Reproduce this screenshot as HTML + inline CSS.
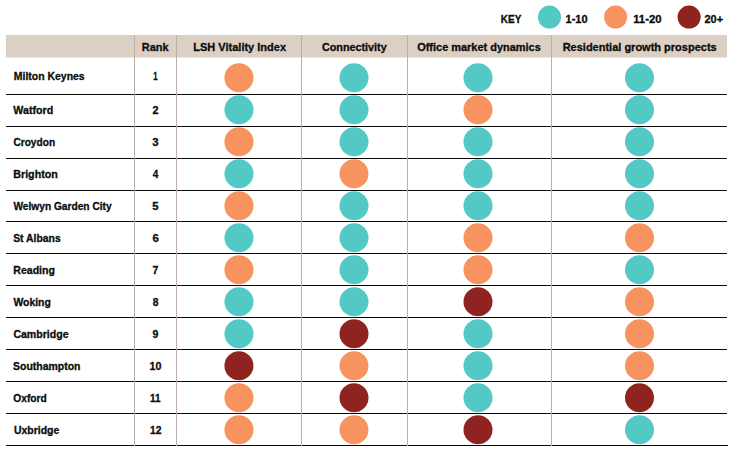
<!DOCTYPE html>
<html><head><meta charset="utf-8"><title>Vitality Index</title>
<style>
html,body{margin:0;padding:0;background:#fff;}
body{width:738px;height:455px;overflow:hidden;}
svg{display:block;}
text{font-family:"Liberation Sans",sans-serif;font-weight:bold;font-size:10.6px;fill:#0c0c0c;stroke:#0c0c0c;stroke-width:0.3px;}
.h{font-size:11.3px;}
</style></head><body>
<svg width="738" height="455" viewBox="0 0 738 455">
<rect x="6" y="35" width="721" height="22.5" fill="#dcd0c4"/>
<rect x="6" y="94" width="721" height="1" fill="#0a0a0a" shape-rendering="crispEdges"/>
<rect x="6" y="126" width="721" height="1" fill="#0a0a0a" shape-rendering="crispEdges"/>
<rect x="6" y="158" width="721" height="1" fill="#0a0a0a" shape-rendering="crispEdges"/>
<rect x="6" y="190" width="721" height="1" fill="#0a0a0a" shape-rendering="crispEdges"/>
<rect x="6" y="221" width="721" height="1" fill="#0a0a0a" shape-rendering="crispEdges"/>
<rect x="6" y="253" width="721" height="1" fill="#0a0a0a" shape-rendering="crispEdges"/>
<rect x="6" y="285" width="721" height="1" fill="#0a0a0a" shape-rendering="crispEdges"/>
<rect x="6" y="317" width="721" height="1" fill="#0a0a0a" shape-rendering="crispEdges"/>
<rect x="6" y="349" width="721" height="1" fill="#0a0a0a" shape-rendering="crispEdges"/>
<rect x="6" y="381" width="721" height="1" fill="#0a0a0a" shape-rendering="crispEdges"/>
<rect x="6" y="413" width="721" height="1" fill="#0a0a0a" shape-rendering="crispEdges"/>
<rect x="6" y="445" width="722" height="1" fill="#0a0a0a" shape-rendering="crispEdges"/>
<rect x="134" y="35" width="1" height="411" fill="#bbaea7" shape-rendering="crispEdges"/>
<rect x="176" y="35" width="1" height="411" fill="#bbaea7" shape-rendering="crispEdges"/>
<rect x="301" y="35" width="1" height="411" fill="#bbaea7" shape-rendering="crispEdges"/>
<rect x="407" y="35" width="1" height="411" fill="#bbaea7" shape-rendering="crispEdges"/>
<rect x="551" y="35" width="1" height="411" fill="#bbaea7" shape-rendering="crispEdges"/>
<circle cx="549.5" cy="17.05" r="11.55" fill="#52c9c4"/>
<circle cx="615.6" cy="17.05" r="11.55" fill="#f7935e"/>
<circle cx="689.1" cy="17.05" r="11.55" fill="#8e2320"/>
<circle cx="238.95" cy="77.75" r="14.5" fill="#f7935e"/>
<circle cx="354.0" cy="77.75" r="14.5" fill="#52c9c4"/>
<circle cx="478.0" cy="77.75" r="14.5" fill="#52c9c4"/>
<circle cx="639.5" cy="77.75" r="14.5" fill="#52c9c4"/>
<circle cx="238.95" cy="109.75" r="14.5" fill="#52c9c4"/>
<circle cx="354.0" cy="109.75" r="14.5" fill="#52c9c4"/>
<circle cx="478.0" cy="109.75" r="14.5" fill="#f7935e"/>
<circle cx="639.5" cy="109.75" r="14.5" fill="#52c9c4"/>
<circle cx="238.95" cy="141.75" r="14.5" fill="#f7935e"/>
<circle cx="354.0" cy="141.75" r="14.5" fill="#52c9c4"/>
<circle cx="478.0" cy="141.75" r="14.5" fill="#52c9c4"/>
<circle cx="639.5" cy="141.75" r="14.5" fill="#52c9c4"/>
<circle cx="238.95" cy="173.75" r="14.5" fill="#52c9c4"/>
<circle cx="354.0" cy="173.75" r="14.5" fill="#f7935e"/>
<circle cx="478.0" cy="173.75" r="14.5" fill="#52c9c4"/>
<circle cx="639.5" cy="173.75" r="14.5" fill="#52c9c4"/>
<circle cx="238.95" cy="205.75" r="14.5" fill="#f7935e"/>
<circle cx="354.0" cy="205.75" r="14.5" fill="#52c9c4"/>
<circle cx="478.0" cy="205.75" r="14.5" fill="#52c9c4"/>
<circle cx="639.5" cy="205.75" r="14.5" fill="#52c9c4"/>
<circle cx="238.95" cy="237.75" r="14.5" fill="#52c9c4"/>
<circle cx="354.0" cy="237.75" r="14.5" fill="#52c9c4"/>
<circle cx="478.0" cy="237.75" r="14.5" fill="#f7935e"/>
<circle cx="639.5" cy="237.75" r="14.5" fill="#f7935e"/>
<circle cx="238.95" cy="269.75" r="14.5" fill="#f7935e"/>
<circle cx="354.0" cy="269.75" r="14.5" fill="#52c9c4"/>
<circle cx="478.0" cy="269.75" r="14.5" fill="#f7935e"/>
<circle cx="639.5" cy="269.75" r="14.5" fill="#52c9c4"/>
<circle cx="238.95" cy="301.75" r="14.5" fill="#52c9c4"/>
<circle cx="354.0" cy="301.75" r="14.5" fill="#52c9c4"/>
<circle cx="478.0" cy="301.75" r="14.5" fill="#8e2320"/>
<circle cx="639.5" cy="301.75" r="14.5" fill="#f7935e"/>
<circle cx="238.95" cy="333.75" r="14.5" fill="#52c9c4"/>
<circle cx="354.0" cy="333.75" r="14.5" fill="#8e2320"/>
<circle cx="478.0" cy="333.75" r="14.5" fill="#52c9c4"/>
<circle cx="639.5" cy="333.75" r="14.5" fill="#f7935e"/>
<circle cx="238.95" cy="365.75" r="14.5" fill="#8e2320"/>
<circle cx="354.0" cy="365.75" r="14.5" fill="#f7935e"/>
<circle cx="478.0" cy="365.75" r="14.5" fill="#52c9c4"/>
<circle cx="639.5" cy="365.75" r="14.5" fill="#f7935e"/>
<circle cx="238.95" cy="397.75" r="14.5" fill="#f7935e"/>
<circle cx="354.0" cy="397.75" r="14.5" fill="#8e2320"/>
<circle cx="478.0" cy="397.75" r="14.5" fill="#52c9c4"/>
<circle cx="639.5" cy="397.75" r="14.5" fill="#8e2320"/>
<circle cx="238.95" cy="429.75" r="14.5" fill="#f7935e"/>
<circle cx="354.0" cy="429.75" r="14.5" fill="#f7935e"/>
<circle cx="478.0" cy="429.75" r="14.5" fill="#8e2320"/>
<circle cx="639.5" cy="429.75" r="14.5" fill="#52c9c4"/>
<text id="t0" x="13.87" y="79.85" textLength="70.84" lengthAdjust="spacingAndGlyphs">Milton Keynes</text>
<text id="t1" x="13.37" y="113.85" textLength="39.83" lengthAdjust="spacingAndGlyphs">Watford</text>
<text id="t2" x="13.39" y="145.85" textLength="41.75" lengthAdjust="spacingAndGlyphs">Croydon</text>
<text id="t3" x="13.26" y="177.85" textLength="44.54" lengthAdjust="spacingAndGlyphs">Brighton</text>
<text id="t4" x="13.40" y="209.85" textLength="98.24" lengthAdjust="spacingAndGlyphs">Welwyn Garden City</text>
<text id="t5" x="13.14" y="241.85" textLength="47.54" lengthAdjust="spacingAndGlyphs">St Albans</text>
<text id="t6" x="13.36" y="273.85" textLength="41.54" lengthAdjust="spacingAndGlyphs">Reading</text>
<text id="t7" x="13.39" y="305.85" textLength="37.50" lengthAdjust="spacingAndGlyphs">Woking</text>
<text id="t8" x="13.38" y="337.85" textLength="55.14" lengthAdjust="spacingAndGlyphs">Cambridge</text>
<text id="t9" x="13.10" y="369.85" textLength="67.38" lengthAdjust="spacingAndGlyphs">Southampton</text>
<text id="t10" x="13.37" y="401.85" textLength="33.43" lengthAdjust="spacingAndGlyphs">Oxford</text>
<text id="t11" x="14.01" y="433.85" textLength="45.32" lengthAdjust="spacingAndGlyphs">Uxbridge</text>
<text id="t12" class="h" x="141.86" y="50.55" textLength="26.71" lengthAdjust="spacingAndGlyphs">Rank</text>
<text id="t13" class="h" x="193.26" y="50.55" textLength="92.83" lengthAdjust="spacingAndGlyphs">LSH Vitality Index</text>
<text id="t14" class="h" x="322.01" y="50.55" textLength="64.69" lengthAdjust="spacingAndGlyphs">Connectivity</text>
<text id="t15" class="h" x="417.21" y="50.55" textLength="123.56" lengthAdjust="spacingAndGlyphs">Office market dynamics</text>
<text id="t16" class="h" x="562.67" y="50.55" textLength="154.01" lengthAdjust="spacingAndGlyphs">Residential growth prospects</text>
<text id="t17" x="500.83" y="22.85" textLength="20.54" lengthAdjust="spacingAndGlyphs">KEY</text>
<text id="t18" x="565.51" y="22.85" textLength="22.10" lengthAdjust="spacingAndGlyphs">1<tspan dy="-0.9">-</tspan><tspan dy="0.9">10</tspan></text>
<text id="t19" x="633.18" y="22.85" textLength="28.38" lengthAdjust="spacingAndGlyphs">11<tspan dy="-0.9">-</tspan><tspan dy="0.9">20</tspan></text>
<text id="t20" x="704.56" y="22.85" textLength="18.50" lengthAdjust="spacingAndGlyphs">20+</text>
<text id="t21" x="153.23" y="79.85" textLength="4.35" lengthAdjust="spacingAndGlyphs">1</text>
<text id="t22" x="152.44" y="113.85" textLength="6.04" lengthAdjust="spacingAndGlyphs">2</text>
<text id="t23" x="152.32" y="145.85" textLength="6.37" lengthAdjust="spacingAndGlyphs">3</text>
<text id="t24" x="152.63" y="177.85" textLength="5.58" lengthAdjust="spacingAndGlyphs">4</text>
<text id="t25" x="152.29" y="209.85" textLength="6.30" lengthAdjust="spacingAndGlyphs">5</text>
<text id="t26" x="152.40" y="241.85" textLength="6.34" lengthAdjust="spacingAndGlyphs">6</text>
<text id="t27" x="152.52" y="273.85" textLength="5.84" lengthAdjust="spacingAndGlyphs">7</text>
<text id="t28" x="152.87" y="305.85" textLength="5.74" lengthAdjust="spacingAndGlyphs">8</text>
<text id="t29" x="152.46" y="337.85" textLength="5.87" lengthAdjust="spacingAndGlyphs">9</text>
<text id="t30" x="149.59" y="369.85" textLength="11.95" lengthAdjust="spacingAndGlyphs">10</text>
<text id="t31" x="149.96" y="401.85" textLength="10.52" lengthAdjust="spacingAndGlyphs">11</text>
<text id="t32" x="149.97" y="433.85" textLength="11.44" lengthAdjust="spacingAndGlyphs">12</text>
</svg>
</body></html>
